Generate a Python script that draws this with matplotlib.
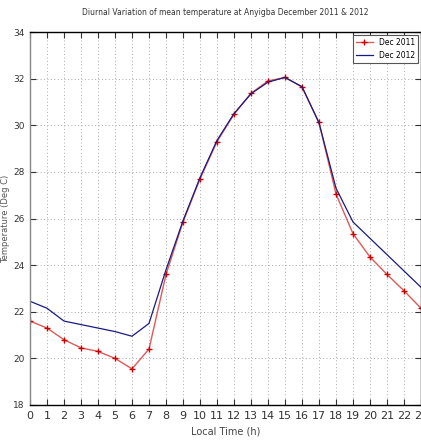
import numpy as np
import matplotlib
matplotlib.use('Agg')
import matplotlib.pyplot as plt

# hourly mean temperature (deg C)
hours = list(range(24))
dec2011 = [21.6, 21.3, 20.8, 20.45, 20.3, 20.0, 19.55, 20.4, 23.6, 25.85,
           27.7, 29.3, 30.47, 31.37, 31.9, 32.05, 31.65, 30.12, 27.05, 25.35,
           24.35, 23.6, 22.9, 22.15]
dec2012 = [22.45, 22.15, 21.6, 21.45, 21.3, 21.15, 20.95, 21.5, 23.8, 25.9,
           27.75, 29.35, 30.5, 31.35, 31.85, 32.05, 31.65, 30.1, 27.3, 25.85,
           25.15, 24.45, 23.75, 23.05]
yticks = list(range(18, 35, 2))

narrow = ['Liberation Sans Narrow', 'DejaVu Sans']

fig = plt.figure(figsize=(4.21, 4.41), dpi=100)
ax = fig.add_axes([30/421, 1 - 405/441, 391/421, (405 - 32)/441])

ax.plot(hours, dec2011, color='#e05858', lw=1.0, marker='+', ms=5, mew=1.0,
        mec='#cc0000', label='Dec 2011')
ax.plot(hours, dec2012, color='#1a1a80', lw=0.9, label='Dec 2012')

ax.set_xlim(0, 23)
ax.set_ylim(18, 34)
ax.set_xticks(hours)
ax.set_yticks(yticks)
ax.set_xticklabels([str(h) for h in hours], family=narrow, fontsize=8,
                   color='#555555')
ax.set_yticklabels([str(t) for t in yticks], family=narrow, fontsize=6.5,
                   color='#555555')
ax.tick_params(direction='in', top=True, right=True, length=4, width=0.8,
               colors='#333333', pad=4)
ax.grid(True, ls=(0, (1, 2.5)), color='#aaaaaa', lw=0.7)

for s in ax.spines.values():
    s.set_linewidth(1.0)
ax.spines['left'].set_color('#888888')

ax.set_title('Diurnal Variation of mean temperature at Anyigba December 2011 & 2012',
             family=narrow, fontsize=5.5, pad=12, color='#333333')
ax.set_xlabel('Local Time (h)', family=narrow, fontsize=7, labelpad=4,
              color='#444444')
ax.set_ylabel('Temperature (Deg C)', fontsize=6, color='#555555', labelpad=2)

leg = ax.legend(loc='upper right', prop={'family': narrow, 'size': 5.5},
                fancybox=False, edgecolor='#555555', framealpha=1,
                handlelength=2.2, borderaxespad=0.4)
leg.get_frame().set_linewidth(0.8)

fig.savefig('out.png', dpi=100)
